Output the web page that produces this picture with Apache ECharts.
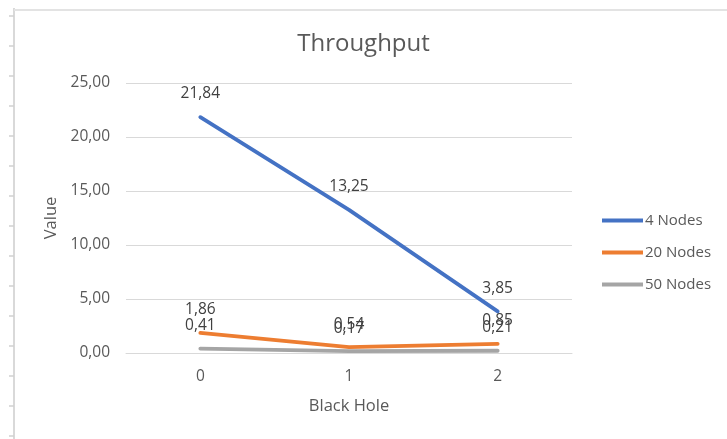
<!DOCTYPE html>
<html>
<head>
<meta charset="utf-8">
<script src="https://cdn.jsdelivr.net/npm/echarts@6/dist/echarts.min.js"></script>
<style>
html,body{margin:0;padding:0;background:#fff;}
#c{width:727px;height:439px;}
</style>
</head>
<body>
<div id="c"></div>
<script>
const categories = ['0', '1', '2'];
const seriesNames = ['4 Nodes', '20 Nodes', '50 Nodes'];
const nodes4 = [21.84, 13.25, 3.85];
const nodes20 = [1.86, 0.54, 0.85];
const nodes50 = [0.41, 0.17, 0.21];
const colors = ['#4472C4', '#ED7D31', '#A5A5A5'];

const chart = echarts.init(document.getElementById('c'), null, {renderer: 'canvas'});
const fmt = p => p.value.toFixed(2).replace('.', ',');
const FONT = '"Open Sans", "Noto Sans", sans-serif';

function mk(name, data, color) {
  return {
    name: name,
    type: 'line',
    data: data,
    symbol: 'circle',
    symbolSize: 0.1,
    showSymbol: true,
    itemStyle: {color: color},
    lineStyle: {color: color, width: 3.8, cap: 'round', join: 'round'},
    label: {
      show: true, position: 'top', distance: 15,
      formatter: fmt, color: '#404040', fontSize: 15.5, fontFamily: FONT
    },
    emphasis: {disabled: true},
    animation: false
  };
}

// decorative sheet edge (screenshot frame)
const graphics = [
  {type: 'line', shape: {x1: 14, y1: 8, x2: 14, y2: 439}, style: {stroke: '#d9d9d9', lineWidth: 2}, silent: true},
  {type: 'line', shape: {x1: 14, y1: 10, x2: 727, y2: 10}, style: {stroke: '#e3e3e3', lineWidth: 2}, silent: true}
];
for (let y = 16; y < 439; y += 30) {
  graphics.push({type: 'line', shape: {x1: 9, y1: y, x2: 14, y2: y}, style: {stroke: '#d0d0d0', lineWidth: 1.5}, silent: true});
}

chart.setOption({
  backgroundColor: '#ffffff',
  animation: false,
  color: colors,
  title: {
    text: 'Throughput', left: 'center', top: 27,
    textStyle: {color: '#595959', fontSize: 24, fontWeight: 'normal', fontFamily: FONT}
  },
  legend: {
    orient: 'vertical', left: 597, top: 208,
    itemWidth: 41, itemHeight: 4, itemGap: 17, icon: 'rect',
    textStyle: {color: '#595959', fontSize: 15, fontFamily: FONT, padding: [0, 0, 0, -3]},
    data: seriesNames
  },
  grid: {left: 126, right: 155, top: 83, bottom: 86},
  xAxis: {
    type: 'category', data: categories, boundaryGap: true,
    name: 'Black Hole', nameLocation: 'middle', nameGap: 45,
    nameTextStyle: {color: '#595959', fontSize: 16.5, fontFamily: FONT},
    axisLine: {show: true, lineStyle: {color: '#d9d9d9', width: 1}},
    axisTick: {show: false},
    axisLabel: {color: '#595959', fontSize: 15.5, fontFamily: FONT, margin: 16}
  },
  yAxis: {
    type: 'value', min: 0, max: 25, interval: 5,
    name: 'Value', nameLocation: 'middle', nameGap: 65, nameRotate: 90,
    nameTextStyle: {color: '#595959', fontSize: 16.5, fontFamily: FONT},
    axisLine: {show: false}, axisTick: {show: false},
    splitLine: {lineStyle: {color: '#d9d9d9', width: 1}},
    axisLabel: {color: '#595959', fontSize: 15.5, fontFamily: FONT, margin: 16,
      formatter: v => v.toFixed(2).replace('.', ',')}
  },
  graphic: graphics,
  series: [
    mk(seriesNames[0], nodes4, colors[0]),
    mk(seriesNames[1], nodes20, colors[1]),
    mk(seriesNames[2], nodes50, colors[2])
  ]
});
</script>
</body>
</html>
